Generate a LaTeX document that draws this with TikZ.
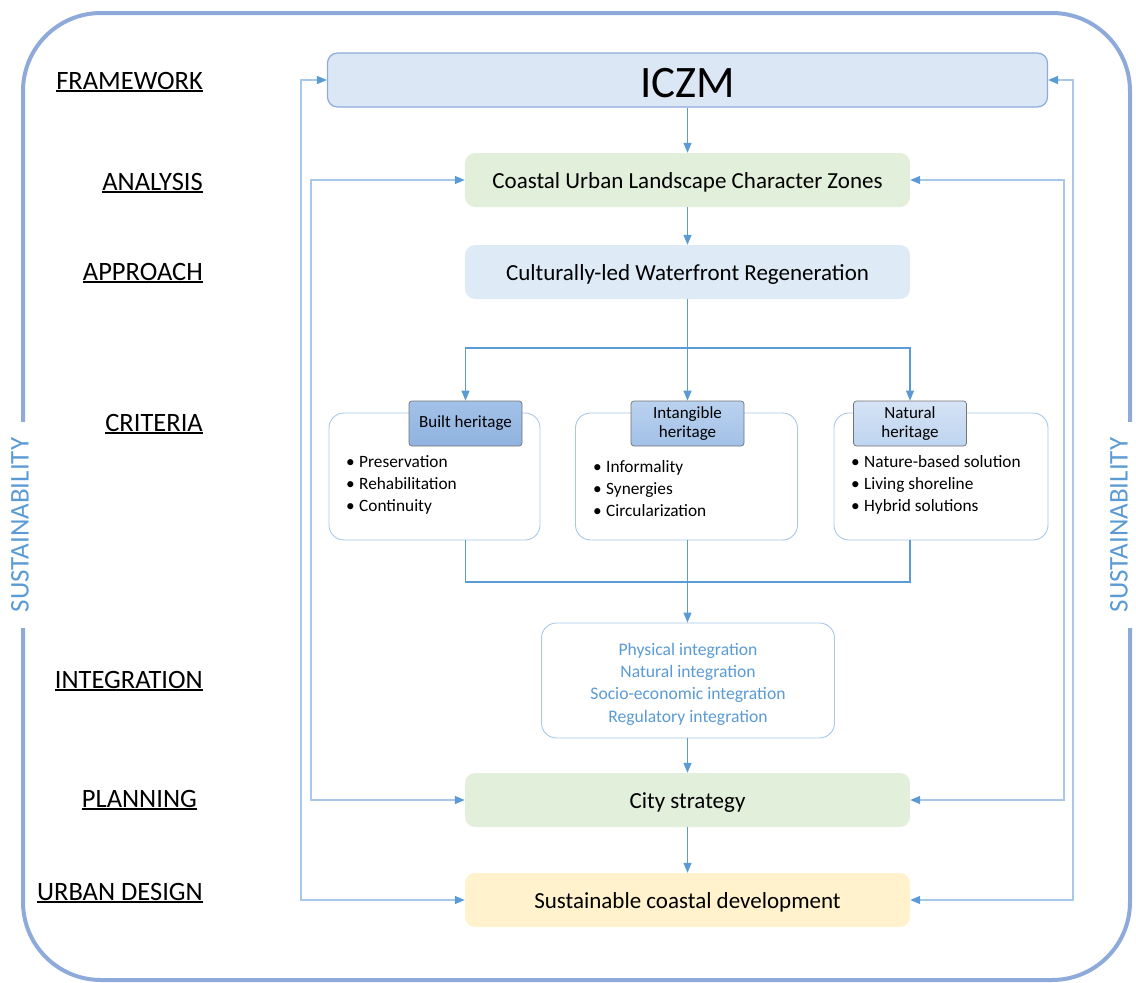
\documentclass[tikz,border=0pt]{standalone}
\usepackage{fontspec}
\setmainfont{Carlito}
\usetikzlibrary{arrows.meta,calc}
\definecolor{framec}{HTML}{8EAADB}
\definecolor{arr}{HTML}{5B9BD5}
\definecolor{fb}{HTML}{A7C8E8}
\definecolor{iczmfill}{HTML}{DCE7F5}
\definecolor{greenfill}{HTML}{E2EFDA}
\definecolor{bluefill}{HTML}{DEEBF7}
\definecolor{yellowfill}{HTML}{FFF2CC}
\definecolor{txtblue}{HTML}{5B9BD5}
\definecolor{bhtop}{HTML}{A3C2E9}
\definecolor{bhbot}{HTML}{8FB2DF}
\definecolor{ihtop}{HTML}{BAD2EF}
\definecolor{ihbot}{HTML}{A2C0E7}
\definecolor{nhtop}{HTML}{D5E3F5}
\definecolor{nhbot}{HTML}{BED4EF}
\newcommand\ulab[1]{\vtop{\hbox{#1}\kern1.2pt\hrule height 1.6pt}}
\newcommand\bul{\makebox[13pt][l]{\textbullet}}
\begin{document}
\begin{tikzpicture}[x=1pt,y=-1pt,
 lbl/.style={anchor=base east, inner sep=0pt, font=\fontsize{26.5}{30}\selectfont},
 mainbox/.style={rounded corners=10pt, minimum width=445pt, minimum height=54pt, inner sep=0pt, text height=20pt, text depth=3pt, font=\fontsize{23}{27}\selectfont},
 critbox/.style={draw=fb, line width=0.9pt, rounded corners=15pt, fill=white, minimum height=127pt, inner sep=0pt},
 head/.style={draw=black!55, line width=0.7pt, rounded corners=3pt, minimum width=113pt, minimum height=45pt, inner sep=0pt, align=center, font=\fontsize{17}{19}\selectfont},
 items/.style={anchor=west, align=left, inner sep=0pt, font=\fontsize{17.3}{22}\selectfont},
 conn/.style={draw=arr, line width=1.1pt, -{Triangle[length=10pt,width=8pt]}},
 plainc/.style={draw=arr, line width=1.1pt},
 fbline/.style={draw=fb, line width=1.5pt, {Triangle[length=10pt,width=8pt,color=arr]}-{Triangle[length=10pt,width=8pt,color=arr]}},
 sust/.style={rotate=90, fill=white, text=txtblue, inner xsep=16pt, inner ysep=1pt, font=\fontsize{27}{30}\selectfont}
]
\useasboundingbox (0,0) rectangle (1136,983);

% outer frame
\draw[framec, line width=4pt, rounded corners=78pt] (23,13) rectangle (1130,980);
\node[sust] (sl) at (20,525) {SUSTAINABILITY};
\node[sust, inner ysep=6pt] (sr) at (1119,525) {SUSTAINABILITY};

% left labels
\node[lbl] (l1) at (203,89) {\ulab{FRAMEWORK}};
\node[lbl] (l2) at (203,190) {\ulab{ANALYSIS}};
\node[lbl] (l3) at (203,280) {\ulab{APPROACH}};
\node[lbl] (l4) at (203,431) {\ulab{CRITERIA}};
\node[lbl] (l5) at (203,688) {\ulab{INTEGRATION}};
\node[lbl] (l6) at (197,807) {\ulab{PLANNING}};
\node[lbl] (l7) at (203,900) {\ulab{URBAN DESIGN}};

% main boxes
\node[mainbox, fill=iczmfill, draw=framec, line width=1.2pt, minimum width=720pt, text height=34pt, text depth=0pt, font=\fontsize{45}{48}\selectfont] (iczm) at (687.5,80) {ICZM};
\node[mainbox, fill=greenfill] (coastal) at (687.5,180) {Coastal Urban Landscape Character Zones};
\node[mainbox, fill=bluefill] (cult) at (687.5,272) {Culturally-led Waterfront Regeneration};
\node[mainbox, fill=greenfill] (city) at (687.5,800) {City strategy};
\node[mainbox, fill=yellowfill] (sdev) at (687.5,900) {Sustainable coastal development};

% criteria boxes
\node[critbox, minimum width=211pt] (bbox) at (434.5,476.5) {};
\node[critbox, minimum width=222pt] (ibox) at (686.5,476.5) {};
\node[critbox, minimum width=214pt] (nbox) at (941,476.5) {};
\node[head, top color=bhtop, bottom color=bhbot] (bhead) at (465.5,423.5) {Built heritage};
\node[head, top color=ihtop, bottom color=ihbot] (ihead) at (687.5,423.5) {Intangible\\heritage};
\node[head, top color=nhtop, bottom color=nhbot] (nhead) at (910,423.5) {Natural\\heritage};
\node[items] (bitems) at (346,485) {\bul Preservation\\\bul Rehabilitation\\\bul Continuity};
\node[items] (iitems) at (593,489) {\bul Informality\\\bul Synergies\\\bul Circularization};
\node[items] (nitems) at (851,485) {\bul Nature-based solution\\\bul Living shoreline\\\bul Hybrid solutions};

% integration box
\node[draw=fb, line width=0.9pt, rounded corners=15pt, fill=white, minimum width=293pt, minimum height=115pt, inner sep=0pt] (intg) at (688,680.5) {};
\node[inner sep=0pt, align=center, text=txtblue, font=\fontsize{17.6}{22.3}\selectfont] (intgtext) at (688,684) {Physical integration\\Natural integration\\Socio-economic integration\\Regulatory integration};

% main flow
\draw[conn] (iczm) -- (coastal);
\draw[conn] (coastal) -- (cult);
\coordinate (split) at (687.5,348);
\draw[plainc] (cult.south) -- (split);
\draw[conn] (split) -| (bhead.north);
\draw[conn] (split) -- (ihead.north);
\draw[conn] (split) -| (nhead.north);
\coordinate (join) at (687.5,582);
\draw[plainc] (bhead.south |- bbox.south) |- (join);
\draw[plainc] (nhead.south |- nbox.south) |- (join);
\draw[conn] (ihead.south |- ibox.south) -- (intg.north -| ihead.south);
\draw[conn] (intg.south -| city.north) -- (city.north);
\draw[conn] (city) -- (sdev);

% feedback loops
\draw[fbline] (iczm.west) -| (301,500) |- (sdev.west);
\draw[fbline] (coastal.west) -| (311,500) |- (city.west);
\draw[fbline] (iczm.east) -| (1073,500) |- (sdev.east);
\draw[fbline] (coastal.east) -| (1064,500) |- (city.east);
\end{tikzpicture}
\end{document}
